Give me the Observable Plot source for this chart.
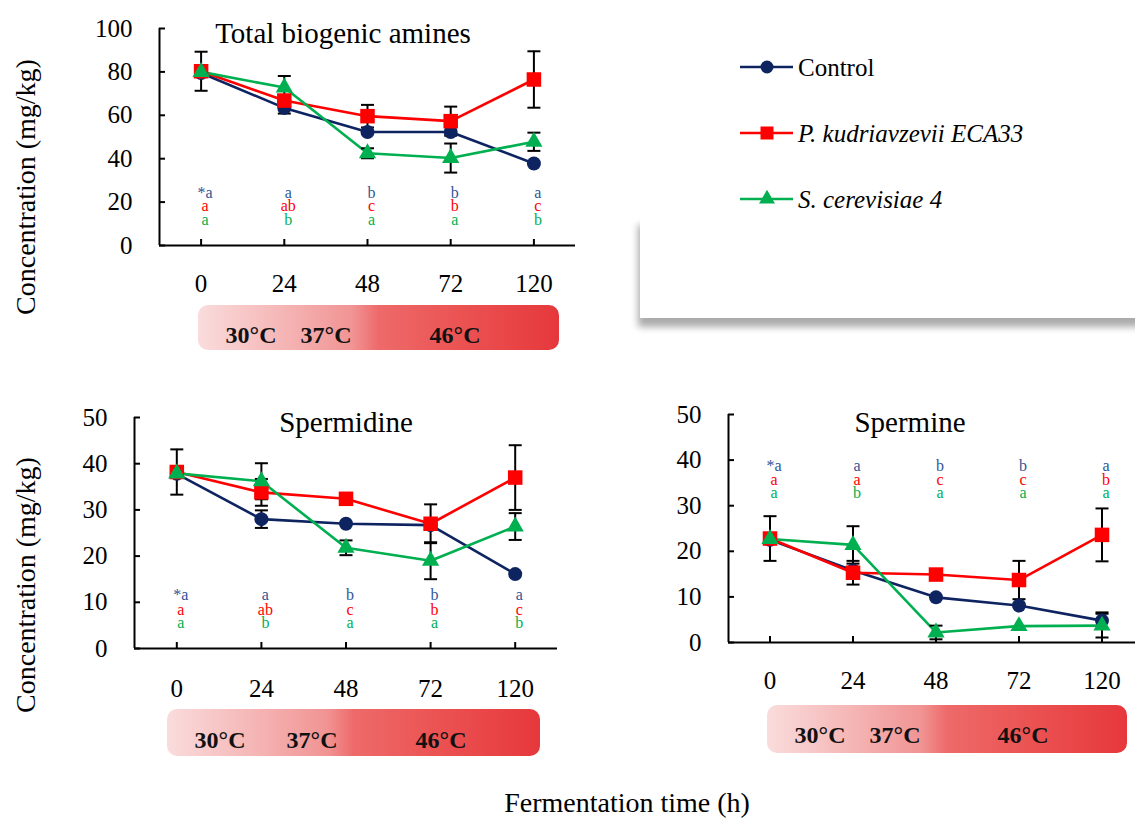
<!DOCTYPE html>
<html><head><meta charset="utf-8">
<script src="https://cdn.jsdelivr.net/npm/d3@7"></script>
<script src="https://cdn.jsdelivr.net/npm/@observablehq/plot@0.6"></script>
<style>
html,body{margin:0;padding:0;background:#fff;overflow:hidden}
#root{position:relative;width:1135px;height:818px;overflow:hidden;background:#fff}
#root > *{position:absolute}
#root svg, #root svg text{font-family:'Liberation Serif','Times New Roman',serif}
</style>
</head><body><div id="root"></div>
<script>
// ---------- data ----------
const times = ["0", "24", "48", "72", "120"];
const seriesNames = ["Control", "P. kudriavzevii ECA33", "S. cerevisiae 4"];
const tempLabels = ["30°C", "37°C", "46°C"];
const axisTitleY = "Concentration (mg/kg)";
const axisTitleX = "Fermentation time (h)";

// Total biogenic amines
const totalControl = [79.5, 63.4, 52.3, 52.3, 37.8];
const totalKudriavzevii = [80.3, 66.8, 59.6, 57.3, 76.5];
const totalCerevisiae = [80.0, 72.8, 42.5, 40.3, 47.8];
const totalControlErr = [null, 2.6, null, null, null];
const totalKudriavzeviiErr = [9.0, null, 5.2, 6.7, 13.0];
const totalCerevisiaeErr = [null, 5.3, 2.3, 6.7, 4.2];
const totalControlLetters = ["*a", "a", "b", "b", "a"];
const totalKudriavzeviiLetters = ["a", "ab", "c", "b", "c"];
const totalCerevisiaeLetters = ["a", "b", "a", "a", "b"];

// Spermidine
const spdControl = [37.8, 28.0, 27.0, 26.7, 16.1];
const spdKudriavzevii = [38.2, 33.8, 32.4, 27.0, 37.0];
const spdCerevisiae = [37.9, 36.2, 21.8, 19.0, 26.4];
const spdControlErr = [null, 1.9, null, null, null];
const spdKudriavzeviiErr = [4.9, 2.9, null, 4.2, 7.0];
const spdCerevisiaeErr = [null, 3.9, 1.6, 4.0, 2.9];
const spdControlLetters = ["*a", "a", "b", "b", "a"];
const spdKudriavzeviiLetters = ["a", "ab", "c", "b", "c"];
const spdCerevisiaeLetters = ["a", "b", "a", "a", "b"];

// Spermine
const spmControl = [22.5, 15.8, 9.9, 8.1, 4.8];
const spmKudriavzevii = [22.8, 15.3, 14.9, 13.7, 23.6];
const spmCerevisiae = [22.7, 21.4, 2.2, 3.6, 3.7];
const spmControlErr = [null, null, null, null, 1.8];
const spmKudriavzeviiErr = [4.9, 2.6, null, 4.2, 5.8];
const spmCerevisiaeErr = [null, 4.1, 1.5, null, 2.6];
const spmControlLetters = ["*a", "a", "b", "b", "a"];
const spmKudriavzeviiLetters = ["a", "a", "c", "c", "b"];
const spmCerevisiaeLetters = ["a", "b", "a", "a", "a"];

// ---------- styles ----------
const lineColors = ["#0e2461", "#ff0000", "#00b050"];
const letterColors = ["#2f5597", "#ff0000", "#00b050"];
const symbols = ["circle", "square", "triangle"];
const symbolR = [7, 8.2, 6.4];
const FONT = "'Liberation Serif', 'Times New Roman', serif";

const capSymbol = {draw(ctx, size) { const r = Math.sqrt(size / Math.PI); ctx.moveTo(-r, 0); ctx.lineTo(r, 0); }};

function panel(cfg) {
  const sets = [
    [cfg.values[0], cfg.errs[0], cfg.letters[0]],
    [cfg.values[1], cfg.errs[1], cfg.letters[1]],
    [cfg.values[2], cfg.errs[2], cfg.letters[2]]
  ];
  const rows = [];
  sets.forEach(([vals, errs, lets], s) => vals.forEach((v, i) => rows.push({s, idx: i, value: v, err: errs[i], letter: lets[i]})));
  const errRows = rows.filter(d => d.err != null);
  const idxTicks = times.map((t, i) => i);
  const marks = [
    Plot.axisY({ticks: cfg.yTicks, tickSize: 6, dx: 6, tickFormat: () => "", stroke: "#000", strokeWidth: 2, label: null}),
    Plot.axisY({ticks: cfg.yTicks, tickSize: 0, tickPadding: 27, label: null, fill: "#000", fontFamily: FONT, fontSize: 25}),
    Plot.axisX({ticks: idxTicks, tickSize: 6, dy: -6, tickFormat: () => "", stroke: "#000", strokeWidth: 2, label: null}),
    Plot.axisX({ticks: idxTicks, tickSize: 0, tickPadding: cfg.xPad, tickFormat: i => times[i], label: null, fill: "#000", fontFamily: FONT, fontSize: 25}),
    Plot.ruleY([0], {stroke: "#000", strokeWidth: 2}),
    Plot.ruleX([-0.5], {stroke: "#000", strokeWidth: 2})
  ];
  [0, 1, 2].forEach(s => marks.push(Plot.line(rows.filter(d => d.s === s), {x: "idx", y: "value", stroke: lineColors[s], strokeWidth: 2.6})));
  marks.push(Plot.ruleX(errRows, {x: "idx", y1: d => d.value - d.err, y2: d => d.value + d.err, stroke: "#000", strokeWidth: 2}));
  marks.push(Plot.dot(errRows, {x: "idx", y: d => d.value - d.err, symbol: capSymbol, r: 6.5, stroke: "#000", strokeWidth: 2, fill: "none"}));
  marks.push(Plot.dot(errRows, {x: "idx", y: d => d.value + d.err, symbol: capSymbol, r: 6.5, stroke: "#000", strokeWidth: 2, fill: "none"}));
  [0, 1, 2].forEach(s => marks.push(Plot.dot(rows.filter(d => d.s === s), {x: "idx", y: "value", symbol: symbols[s], r: symbolR[s], fill: lineColors[s], stroke: "none"})));
  [0, 1, 2].forEach(s => marks.push(Plot.text(rows.filter(d => d.s === s), {x: "idx", y: () => cfg.letterY[s], text: "letter", fill: letterColors[s], fontSize: 16, fontFamily: FONT, dx: 4})));
  const svg = Plot.plot({
    width: cfg.width, height: cfg.height,
    marginLeft: cfg.ml, marginRight: cfg.mr, marginTop: cfg.mt, marginBottom: cfg.mb,
    x: {domain: [-0.5, times.length - 0.5]},
    y: {domain: [0, cfg.yMax]},
    style: {fontSize: "25px", background: "transparent", color: "#000", maxWidth: "none", overflow: "visible"},
    marks
  });
  svg.style.position = "absolute";
  svg.style.left = cfg.left + "px";
  svg.style.top = cfg.top + "px";
  svg.style.fontFamily = FONT;
  return svg;
}

const root = document.getElementById("root");

// shadowed blank box (artifact in the reference)
const box = document.createElement("div");
Object.assign(box.style, {left: "640px", top: "216px", width: "520px", height: "102px", background: "#fff",
  boxShadow: "-2px 9px 7px rgba(0,0,0,0.33)"});
root.appendChild(box);

// overlay for decorations
const W = 1135, H = 818;
const ov = d3.create("svg").attr("width", W).attr("height", H).style("left", "0px").style("top", "0px")
  .style("font-family", FONT);
const grad = ov.append("defs").append("linearGradient").attr("id", "tg").attr("x1", "0").attr("x2", "1").attr("y1", "0").attr("y2", "0");
[[0, "#fadcdc"], [0.25, "#f5b3b3"], [0.43, "#f19393"], [0.5, "#ee6a6a"], [0.75, "#eb5050"], [1, "#e6383c"]]
  .forEach(([o, c]) => grad.append("stop").attr("offset", o).attr("stop-color", c));

const bars = [
  {x: 198, y: 305, w: 361, h: 45, base: 343, tx: [251, 326, 455]},
  {x: 167, y: 709, w: 373, h: 47, base: 748, tx: [220, 312, 441]},
  {x: 767, y: 705, w: 360, h: 48, base: 743, tx: [820, 895, 1023]}
];
bars.forEach(b => {
  ov.append("rect").attr("x", b.x).attr("y", b.y).attr("width", b.w).attr("height", b.h).attr("rx", 10).attr("fill", "url(#tg)");
  b.tx.forEach((x, i) => ov.append("text").attr("x", x).attr("y", b.base).attr("text-anchor", "middle")
    .attr("font-size", 24).attr("font-weight", "bold").attr("fill", "#111").text(tempLabels[i]));
});

// titles
[["Total biogenic amines", 343, 43], ["Spermidine", 346, 432], ["Spermine", 910, 432]].forEach(([t, x, y]) =>
  ov.append("text").attr("x", x).attr("y", y).attr("text-anchor", "middle").attr("font-size", 29).attr("fill", "#000").text(t));

// axis titles
[[25, 187], [25, 585]].forEach(([x, y]) =>
  ov.append("text").attr("transform", `translate(${x},${y}) rotate(-90)`).attr("text-anchor", "middle")
    .attr("dominant-baseline", "central").attr("font-size", 28).attr("fill", "#000").text(axisTitleY));
ov.append("text").attr("x", 627).attr("y", 812).attr("text-anchor", "middle").attr("font-size", 28).attr("fill", "#000").text(axisTitleX);

// legend
const legY = [67, 133, 199];
seriesNames.forEach((name, i) => {
  const g = ov.append("g");
  g.append("line").attr("x1", 740).attr("x2", 793).attr("y1", legY[i]).attr("y2", legY[i]).attr("stroke", lineColors[i]).attr("stroke-width", 2.6);
  const type = [d3.symbolCircle, d3.symbolSquare, d3.symbolTriangle][i];
  const size = [Math.PI * 6.5 * 6.5, 13 * 13, 110][i];
  g.append("path").attr("d", d3.symbol(type, size)()).attr("transform", `translate(767,${legY[i]})`).attr("fill", lineColors[i]);
  g.append("text").attr("x", 798).attr("y", legY[i]).attr("dominant-baseline", "central").attr("font-size", 25)
    .attr("font-style", i === 0 ? "normal" : "italic").attr("fill", "#000").text(name);
});
root.appendChild(ov.node());

// panels
root.appendChild(panel({
  values: [totalControl, totalKudriavzevii, totalCerevisiae],
  errs: [totalControlErr, totalKudriavzeviiErr, totalCerevisiaeErr],
  letters: [totalControlLetters, totalKudriavzeviiLetters, totalCerevisiaeLetters],
  letterY: [24.4, 18.4, 12.0], yMax: 100, yTicks: [0, 20, 40, 60, 80, 100],
  left: 0, top: 0, width: 600, height: 300, ml: 159, mr: 25, mt: 28, mb: 55, xPad: 29
}));
root.appendChild(panel({
  values: [spdControl, spdKudriavzevii, spdCerevisiae],
  errs: [spdControlErr, spdKudriavzeviiErr, spdCerevisiaeErr],
  letters: [spdControlLetters, spdKudriavzeviiLetters, spdCerevisiaeLetters],
  letterY: [11.5, 8.4, 5.6], yMax: 50, yTicks: [0, 10, 20, 30, 40, 50],
  left: 0, top: 390, width: 580, height: 330, ml: 134, mr: 23, mt: 27, mb: 72, xPad: 31
}));
root.appendChild(panel({
  values: [spmControl, spmKudriavzevii, spmCerevisiae],
  errs: [spmControlErr, spmKudriavzeviiErr, spmCerevisiaeErr],
  letters: [spmControlLetters, spmKudriavzeviiLetters, spmCerevisiaeLetters],
  letterY: [38.8, 35.7, 32.9], yMax: 50, yTicks: [0, 10, 20, 30, 40, 50],
  left: 600, top: 390, width: 560, height: 330, ml: 128, mr: 17, mt: 24, mb: 78, xPad: 29
}));
</script>
</body></html>
